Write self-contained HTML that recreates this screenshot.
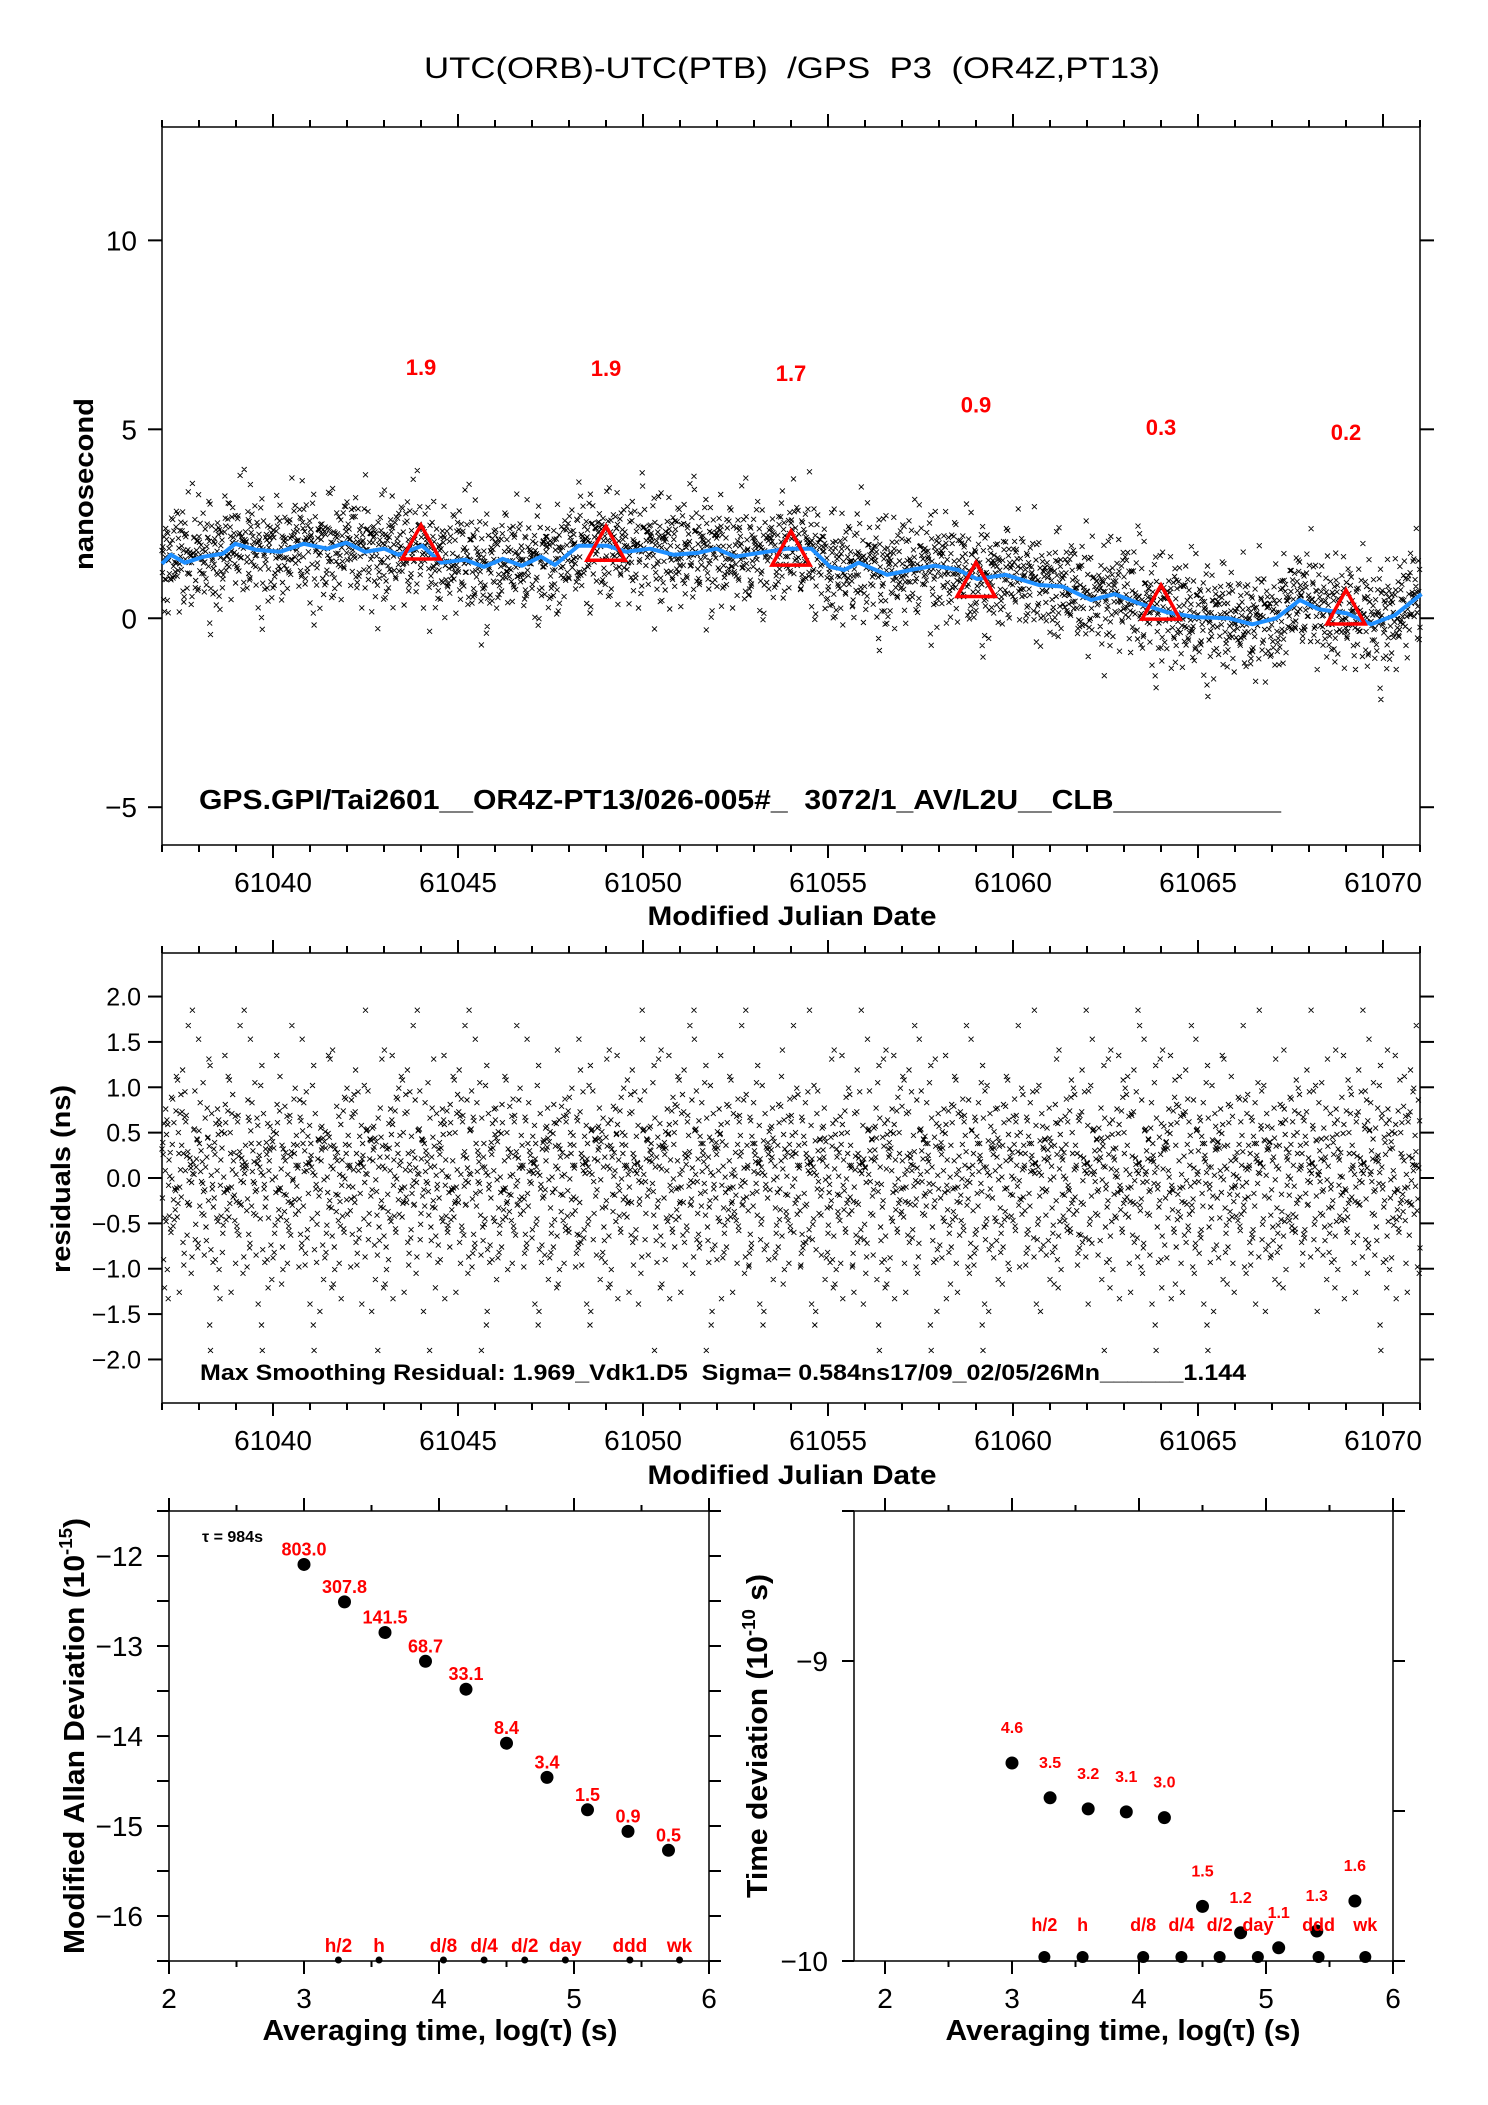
<!DOCTYPE html>
<html><head><meta charset="utf-8"><style>
html,body{margin:0;padding:0;background:#fff;}
svg{display:block;}
text{font-family:"Liberation Sans",sans-serif;}
</style></head><body>
<svg id="chart" xmlns="http://www.w3.org/2000/svg" width="1488" height="2105" viewBox="0 0 1488 2105">
<rect x="0" y="0" width="1488" height="2105" fill="#fff"/>
<text x="792" y="78" font-size="30" text-anchor="middle" textLength="736" lengthAdjust="spacingAndGlyphs" style="white-space:pre">UTC(ORB)-UTC(PTB)  /GPS  P3  (OR4Z,PT13)</text>
</svg>
<script>
// ---- data: top plot ----
const smoothMjd = [61037.0,61037.24,61037.62,61038.13,61038.65,61038.98,61039.55,61040.19,61040.83,61041.47,61041.98,61042.49,61043.01,61043.39,61044.03,61044.55,61045.19,61045.70,61046.21,61046.73,61047.24,61047.62,61048.26,61049.03,61049.55,61050.19,61050.83,61051.47,61051.98,61052.49,61053.14,61053.91,61054.55,61055.06,61055.44,61055.83,61056.60,61057.24,61057.88,61058.52,61059.03,61059.80,61060.70,61061.34,61062.11,61062.75,61063.39,61064.16,61064.93,61065.83,61066.47,61067.11,61067.75,61068.26,61069.03,61069.68,61070.32,61071.04];
const smoothNs = [1.44,1.68,1.47,1.63,1.71,1.97,1.81,1.76,1.97,1.84,2.0,1.76,1.84,1.68,1.92,1.47,1.55,1.36,1.57,1.39,1.63,1.41,1.92,1.92,1.76,1.84,1.68,1.73,1.84,1.63,1.73,1.84,1.84,1.36,1.28,1.47,1.15,1.28,1.39,1.28,1.04,1.15,0.88,0.84,0.48,0.64,0.40,0.16,0.03,0.0,-0.16,0.0,0.48,0.24,0.13,-0.16,0.08,0.64];
const triMjd = [61044,61049,61054,61059,61064,61069];
const triNs = [1.99,1.96,1.83,1.0,0.4,0.27];
const triLabels = ["1.9","1.9","1.7","0.9","0.3","0.2"];
const residuals = [0.32,-0.45,0.08,0.71,-0.12,-0.88,0.41,0.05,-0.27,1.12,-0.61,0.19,0.54,-0.03,-0.94,0.36,0.77,-0.39,0.11,-0.58,0.23,1.31,-0.15,-0.72,0.47,0.02,-1.21,0.66,-0.31,0.14,0.89,-0.48,-0.07,0.38,-0.83,0.27,0.59,-0.22,1.02,-0.66,0.09,-0.35,0.51,-1.47,0.17,0.73,-0.11,-0.52,0.31,0.96,-0.29,0.04,-0.76,0.44,0.21,-1.05,0.62,-0.18,0.35,-0.41,1.53,-0.09,0.28,-0.64,0.12,0.83,-0.36,-0.01,0.48,-0.93,0.25,0.67,-0.24,-1.33,0.39,0.06,-0.57,0.92,-0.14,0.33,-0.79,0.16,1.19,-0.43,0.01,0.57,-0.68,0.22,-0.26,0.81,-1.12,0.43,-0.05,0.69,-0.37,0.13,-0.85,0.52,0.29,-0.19,1.41,-0.54,0.07,-0.98,0.37,0.64,-0.32,0.18,-0.62,0.99,-0.08,0.26,-1.62,0.46,-0.21,0.74,-0.44,0.03,0.58,-0.71,1.08,-0.16,0.34,-0.51,0.15,-1.26,0.61,-0.02,0.42,-0.87,0.24,0.79,-0.33,-0.13,0.53,1.68,-0.47,0.1,-0.69,0.3,-0.23,0.87,-1.01,0.45,-0.06,0.63,-0.4,0.2,-0.9,1.24,-0.17,0.36,-0.56,0.08,0.71,-1.39,0.27,-0.28,0.49,-0.74,0.12,0.95,-0.1,-0.46,0.4,-0.2,1.85,-0.63,0.19,-0.82,0.55,0.04,-0.3,0.68,-1.17,0.23,-0.04,0.86,-0.53,0.32,-0.25,1.05,-0.77,0.14,-0.42,0.6,-1.9,0.38,0.11,-0.6,0.76,-0.12,0.21,-0.96,0.5,1.35];
const mjdTicks = [61040,61045,61050,61055,61060,61065,61070];
const topYTicks = [-5,0,5,10];
const midYTicks = [-2.0,-1.5,-1.0,-0.5,0.0,0.5,1.0,1.5,2.0];
// ---- data: stability plots ----
const logTau = [3.0,3.3,3.6,3.9,4.2,4.5,4.8,5.1,5.4,5.7];
const madev = [-12.094,-12.51,-12.85,-13.17,-13.48,-14.08,-14.46,-14.82,-15.06,-15.27];
const madevLabels = ["803.0","307.8","141.5","68.7","33.1","8.4","3.4","1.5","0.9","0.5"];
const tdev = [-9.34,-9.456,-9.493,-9.503,-9.522,-9.818,-9.906,-9.956,-9.9,-9.8];
const tdevLabels = ["4.6","3.5","3.2","3.1","3.0","1.5","1.2","1.1","1.3","1.6"];
const markTau = [3.255,3.556,4.033,4.334,4.635,4.936,5.414,5.782];
const markLabels = ["h/2","h","d/8","d/4","d/2","day","ddd","wk"];
const logTicks = [2,3,4,5,6];
const madevTicks = [-12,-13,-14,-15,-16];
const tdevTicks = [-9,-10];

const svg = document.getElementById('chart');
const NS = 'http://www.w3.org/2000/svg';
function mk(tag, attrs, parent){ const e=document.createElementNS(NS,tag); for(const k in attrs) e.setAttribute(k,attrs[k]); (parent||svg).appendChild(e); return e; }
function txt(s, attrs, parent){ const e=mk('text',attrs,parent); e.textContent=s; return e; }

function axes(x0,x1,y0,y1,xmin,xmax,ymin,ymax){
  return { X:v=>x0+(v-xmin)/(xmax-xmin)*(x1-x0), Y:v=>y1-(v-ymin)/(ymax-ymin)*(y1-y0) };
}
function frame(x0,y0,x1,y1,name){
  const r=mk('rect',{x:x0,y:y0,width:x1-x0,height:y1-y0,fill:'none',stroke:'#000','stroke-width':1.5});
  
  
}
function tick(x1,y1,x2,y2,g){ mk('line',{x1,y1,x2,y2,stroke:'#000','stroke-width':2},g); }

// ===== TOP PLOT =====
const T = {x0:162,x1:1420,y0:127,y1:845};
const A1 = axes(T.x0,T.x1,T.y0,T.y1,61037,61071,-6,13);
frame(T.x0,T.y0,T.x1,T.y1,'top-plot-frame');
let g = mk('g',{});


for(let d=61037; d<=61071; d++){
  const x=A1.X(d), major=(d%5===0);
  tick(x,T.y1,x,T.y1+(major?13:7),g); tick(x,T.y0,x,T.y0-(major?13:7),g);
}
mjdTicks.forEach(d=>{ txt(String(d),{x:A1.X(d),y:892,'font-size':28,'text-anchor':'middle'},g); });
txt('Modified Julian Date',{x:792,y:925,'font-size':27,'font-weight':'bold','text-anchor':'middle',textLength:289,lengthAdjust:'spacingAndGlyphs'},g);
g = mk('g',{});


topYTicks.forEach(v=>{ const y=A1.Y(v); tick(T.x0,y,T.x0-14,y,g); tick(T.x1,y,T.x1+14,y,g);
  txt(v<0?'\u2212'+Math.abs(v):String(v),{x:137,y:y+10,'font-size':28,'text-anchor':'end'},g); });
txt('nanosecond',{x:0,y:0,'font-size':27,'font-weight':'bold','text-anchor':'middle',transform:'translate(93,484) rotate(-90)',textLength:172,lengthAdjust:'spacingAndGlyphs'},g);

function interpSmooth(t){
  for(let i=0;i<smoothMjd.length-1;i++){ if(t<=smoothMjd[i+1]){ const f=(t-smoothMjd[i])/(smoothMjd[i+1]-smoothMjd[i]); return smoothNs[i]+f*(smoothNs[i+1]-smoothNs[i]); } }
  return smoothNs[smoothNs.length-1];
}
const STEP = 1/90;
let dTop='', dMid='';
const A2pre = {x0:162,x1:1420,y0:953,y1:1403};
const A2 = axes(A2pre.x0,A2pre.x1,A2pre.y0,A2pre.y1,61037,61071,-2.48,2.48);
const n = residuals.length;
for(let i=0; 61037+i*STEP<=61071; i++){
  const t = 61037+i*STEP;
  const r = residuals[(i*37 + Math.floor(i/7)*53 + Math.floor(i/29)*17) % n];
  const x = A1.X(t), y = A1.Y(interpSmooth(t)+r*1.1);
  dTop += `M${(x-2.5).toFixed(1)} ${(y-2.5).toFixed(1)}l5 5m0 -5l-5 5`;
  const x2 = A2.X(t), y2 = A2.Y(r);
  dMid += `M${(x2-2.5).toFixed(1)} ${(y2-2.5).toFixed(1)}l5 5m0 -5l-5 5`;
}
const sp = mk('path',{d:dTop,stroke:'#000','stroke-width':0.9,fill:'none'});


let dl='';
smoothMjd.forEach((t,i)=>{ dl += (i?'L':'M')+A1.X(t).toFixed(1)+' '+A1.Y(smoothNs[i]).toFixed(1); });
const sl = mk('path',{d:dl,stroke:'#1e8fff','stroke-width':4,fill:'none','stroke-linejoin':'round'});


triMjd.forEach((t,i)=>{
  const x=A1.X(t), y=A1.Y(triNs[i]);
  const tr = mk('polygon',{points:`${x},${y-18} ${x-19},${y+16} ${x+19},${y+16}`,fill:'none',stroke:'#ff0000','stroke-width':3.5});
  
  
  const lb = txt(triLabels[i],{x:x,y:y-168,'font-size':22,'font-weight':'bold',fill:'#ff0000','text-anchor':'middle'});
  
  
});
const info = txt('GPS.GPI/Tai2601__OR4Z-PT13/026-005#_  3072/1_AV/L2U__CLB__________',{x:199,y:809,'font-size':28,'font-weight':'bold',textLength:1082,lengthAdjust:'spacingAndGlyphs',style:'white-space:pre'});



// ===== MIDDLE PLOT =====
frame(A2pre.x0,A2pre.y0,A2pre.x1,A2pre.y1,'residual-plot-frame');
g = mk('g',{});


for(let d=61037; d<=61071; d++){
  const x=A2.X(d), major=(d%5===0);
  tick(x,A2pre.y1,x,A2pre.y1+(major?13:7),g); tick(x,A2pre.y0,x,A2pre.y0-(major?13:7),g);
}
mjdTicks.forEach(d=>{ txt(String(d),{x:A2.X(d),y:1450,'font-size':28,'text-anchor':'middle'},g); });
txt('Modified Julian Date',{x:792,y:1484,'font-size':27,'font-weight':'bold','text-anchor':'middle',textLength:289,lengthAdjust:'spacingAndGlyphs'},g);
g = mk('g',{});


midYTicks.forEach(v=>{ const y=A2.Y(v); tick(A2pre.x0,y,A2pre.x0-14,y,g); tick(A2pre.x1,y,A2pre.x1+14,y,g);
  txt((v<0?'\u2212':'')+Math.abs(v).toFixed(1),{x:141,y:y+9,'font-size':25,'text-anchor':'end'},g); });
txt('residuals (ns)',{x:0,y:0,'font-size':27,'font-weight':'bold','text-anchor':'middle',transform:'translate(70,1179) rotate(-90)',textLength:188,lengthAdjust:'spacingAndGlyphs'},g);
const mp = mk('path',{d:dMid,stroke:'#000','stroke-width':0.9,fill:'none'});


const mx = txt('Max Smoothing Residual: 1.969_Vdk1.D5  Sigma= 0.584ns17/09_02/05/26Mn______1.144',{x:200,y:1380,'font-size':22,'font-weight':'bold',textLength:1046,lengthAdjust:'spacingAndGlyphs',style:'white-space:pre'});



// ===== STABILITY PLOTS =====
function stabAxes(x0,x1,xmin,xmax,ymin,ymax,name){
  const y0=1511,y1=1961;
  const A = axes(x0,x1,y0,y1,xmin,xmax,ymin,ymax);
  frame(x0,y0,x1,y1,name+'-frame');
  const gx = mk('g',{});
  
  
  for(let v=2; v<=6.001; v+=0.5){
    const x=A.X(v), major=Math.abs(v-Math.round(v))<1e-6;
    tick(x,y1,x,y1+(major?13:6),gx); tick(x,y0,x,y0-(major?13:6),gx);
  }
  logTicks.forEach(v=>{ txt(String(v),{x:A.X(v),y:2008,'font-size':28,'text-anchor':'middle'},gx); });
  return A;
}
// Left: MDEV
const AL = stabAxes(169,709,2,6,-16.5,-11.5,'mdev-plot');
g = mk('g',{});


for(let v=-16.5; v<=-11.5; v+=0.5){ const y=AL.Y(v); tick(169,y,157,y,g); tick(709,y,721,y,g); }
madevTicks.forEach(v=>{ txt('\u2212'+Math.abs(v),{x:143,y:AL.Y(v)+10,'font-size':28,'text-anchor':'end'},g); });
let yl = txt('',{x:0,y:0,'font-size':29,'font-weight':'bold','text-anchor':'middle',transform:'translate(84,1736) rotate(-90)',textLength:436,lengthAdjust:'spacingAndGlyphs'},g);
yl.innerHTML = 'Modified Allan Deviation (10<tspan font-size="18" dy="-12">-15</tspan><tspan dy="12">)</tspan>';
txt('Averaging time, log(\u03c4) (s)',{x:440,y:2040,'font-size':29,'font-weight':'bold','text-anchor':'middle',textLength:355,lengthAdjust:'spacingAndGlyphs'});
const tau = txt('\u03c4 = 984s',{x:202,y:1542,'font-size':16,'font-weight':'bold'});


logTau.forEach((v,i)=>{
  const x=AL.X(v), y=AL.Y(madev[i]);
  const c=mk('circle',{cx:x,cy:y,r:6.5,fill:'#000'});
  
  
  const l=txt(madevLabels[i],{x:x,y:y-9,'font-size':18,'font-weight':'bold',fill:'#ff0000','text-anchor':'middle'});
  
  
});
markTau.forEach((v,i)=>{
  const x=AL.X(v);
  const c=mk('circle',{cx:x,cy:1960,r:3.5,fill:'#000'});
  
  
  const l=txt(markLabels[i],{x:x,y:1952,'font-size':19,'font-weight':'bold',fill:'#ff0000','text-anchor':'middle'});
  
  
});
// Right: TDEV
const AR = stabAxes(854,1393,1.756,6,-10,-8.5,'tdev-plot');
g = mk('g',{});


[-10,-9.5,-9,-8.5].forEach(v=>{ const y=AR.Y(v); tick(1393,y,1405,y,g); if(v!==-9.5) tick(854,y,842,y,g); });
tdevTicks.forEach(v=>{ txt('\u2212'+Math.abs(v),{x:828,y:AR.Y(v)+10,'font-size':28,'text-anchor':'end'},g); });
yl = txt('',{x:0,y:0,'font-size':29,'font-weight':'bold','text-anchor':'middle',transform:'translate(767,1736) rotate(-90)',textLength:324,lengthAdjust:'spacingAndGlyphs'},g);
yl.innerHTML = 'Time deviation (10<tspan font-size="18" dy="-12">-10</tspan><tspan dy="12"> s)</tspan>';
txt('Averaging time, log(\u03c4) (s)',{x:1123,y:2040,'font-size':29,'font-weight':'bold','text-anchor':'middle',textLength:355,lengthAdjust:'spacingAndGlyphs'});
logTau.forEach((v,i)=>{
  const x=AR.X(v), y=AR.Y(tdev[i]);
  const c=mk('circle',{cx:x,cy:y,r:6.5,fill:'#000'});
  
  
  const l=txt(tdevLabels[i],{x:x,y:y-30,'font-size':16,'font-weight':'bold',fill:'#ff0000','text-anchor':'middle'});
  
  
});
markTau.forEach((v,i)=>{
  const x=AR.X(v);
  const c=mk('circle',{cx:x,cy:1957,r:6,fill:'#000'});
  
  
  const l=txt(markLabels[i],{x:x,y:1931,'font-size':18,'font-weight':'bold',fill:'#ff0000','text-anchor':'middle'});
  
  
});
</script>
</body></html>
